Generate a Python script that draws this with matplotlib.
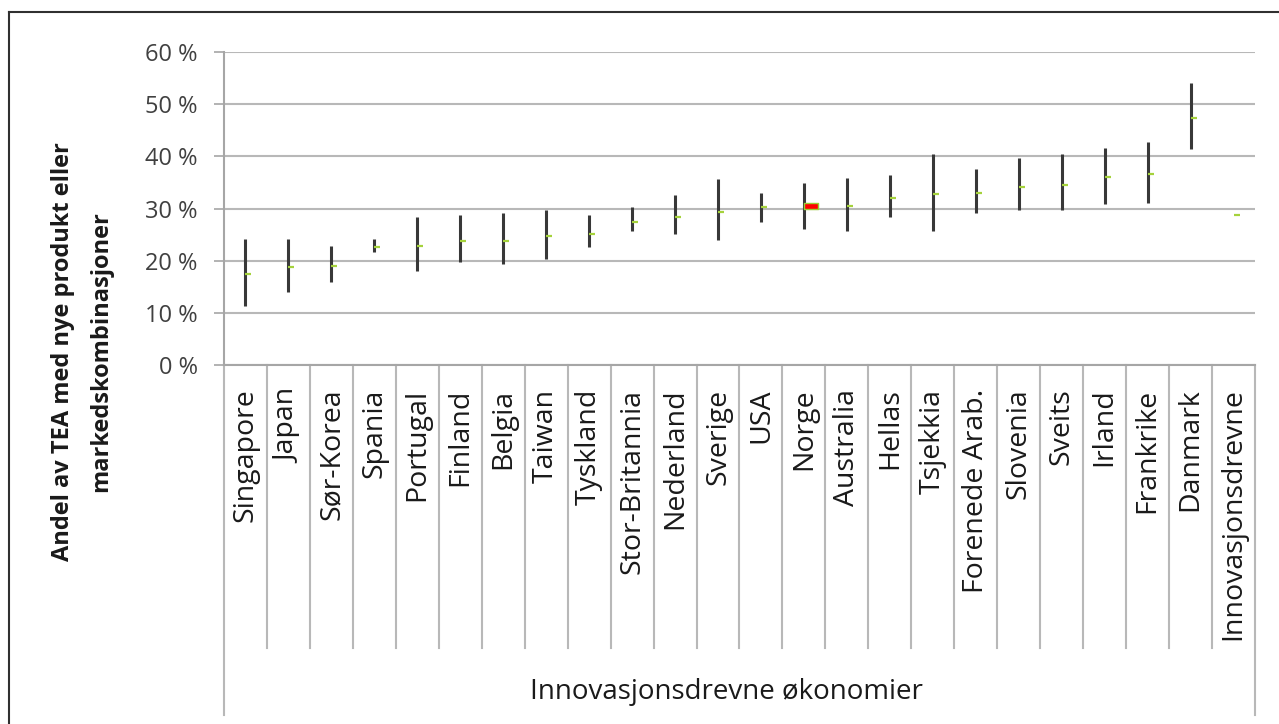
import numpy as np
import matplotlib
matplotlib.use("Agg")
import matplotlib.pyplot as plt
from matplotlib.path import Path
from matplotlib.lines import Line2D
import matplotlib.transforms as mtransforms

plt.rcParams['font.family'] = ['Open Sans', 'DejaVu Sans']

# Data (share of TEA, in %)
countries = ["Singapore", "Japan", "Sør-Korea", "Spania", "Portugal", "Finland",
             "Belgia", "Taiwan", "Tyskland", "Stor-Britannia", "Nederland",
             "Sverige", "USA", "Norge", "Australia", "Hellas", "Tsjekkia",
             "Forenede Arab.", "Slovenia", "Sveits", "Irland", "Frankrike",
             "Danmark", "Innovasjonsdrevne"]
high = [24.1, 24.1, 22.8, 24.2, 28.4, 28.7, 29.1, 29.7, 28.7, 30.2, 32.6,
        35.6, 32.9, 34.8, 35.9, 36.5, 40.4, 37.5, 39.6, 40.4, 41.6, 42.7,
        54.0, np.nan]
low = [11.3, 14.0, 15.9, 21.7, 18.1, 19.7, 19.4, 20.3, 22.7, 25.6, 25.2,
       24.0, 27.5, 26.0, 25.6, 28.3, 25.6, 29.2, 29.8, 29.8, 30.8, 31.1,
       41.4, np.nan]
mid = [17.4, 18.7, 19.0, 22.6, 22.9, 23.8, 23.8, 24.8, 25.2, 27.5, 28.4,
       29.4, 30.2, 30.4, 30.4, 32.0, 32.7, 33.0, 34.2, 34.6, 36.0, 36.6,
       47.3, 28.75]
highlight = "Norge"

high = np.array(high) / 100
low = np.array(low) / 100
mid = np.array(mid) / 100
x = np.arange(len(countries))

fig = plt.figure(figsize=(12.79, 7.24), dpi=100)
ax = fig.add_axes([224 / 1279, 1 - 365 / 724, (1255 - 224) / 1279, (365 - 52) / 724])

grid_c = '#b8b8b8'
axis_c = '#a6a6a6'

# high-low lines and close markers
ax.vlines(x, low, high, color='#383838', lw=2.2, zorder=3)
ax.plot(x, mid, ls='none', marker=1, color='#a5d23c', ms=4, mew=1.6, zorder=4)

# highlighted country
box = Path([(0, -0.2), (1, -0.2), (1, 0.2), (0, 0.2), (0, -0.2)],
           [Path.MOVETO, Path.LINETO, Path.LINETO, Path.LINETO, Path.CLOSEPOLY])
hi = countries.index(highlight)
ax.plot([x[hi]], [mid[hi]], ls='none', marker=box, ms=20, mfc='#ff0000',
        mec='#9acd32', mew=1, zorder=5)

ax.set_xlim(-0.5, len(countries) - 0.5)
ax.set_ylim(0, 0.6)
ax.set_yticks(np.arange(0, 0.61, 0.1))
ax.set_yticklabels([f"{round(v * 100)} %" for v in np.arange(0, 0.61, 0.1)],
                   fontsize=17, color='#404040')
ax.yaxis.grid(True, color=grid_c, lw=1.5)
ax.set_axisbelow(True)
ax.tick_params(axis='y', length=7, width=1.2, color=axis_c, pad=12)

ax.set_xticks(x)
ax.set_xticklabels(countries, rotation=90, fontsize=20.5, color='#1a1a1a', va='top')
ax.tick_params(axis='x', length=0, pad=17)

for s in ['top', 'right']:
    ax.spines[s].set_visible(False)
ax.spines['left'].set_color(axis_c)
ax.spines['bottom'].set_color(axis_c)
ax.spines['left'].set_linewidth(1.5)
ax.spines['bottom'].set_linewidth(1.5)

# category table lines below the axis
trans = mtransforms.blended_transform_factory(ax.transData, ax.transAxes)
bounds = np.arange(len(countries) + 1) - 0.5
for i, b in enumerate(bounds):
    bottom = -1.118 if i in (0, len(bounds) - 1) else -0.904
    ax.plot([b, b], [0, bottom], transform=trans, color=grid_c, lw=1.5,
            clip_on=False, zorder=1)

fig.text(726 / 1279, 1 - 692 / 724, "Innovasjonsdrevne økonomier",
         ha='center', va='center', fontsize=20, color='#1a1a1a')
fig.text(82 / 1279, 1 - 352 / 724,
         "Andel av TEA med nye produkt eller\nmarkedskombinasjoner",
         rotation=90, ha='center', va='center', ma='center',
         fontsize=17, fontweight='bold', color='#1a1a1a', linespacing=1.8)

# outer frame (only top and left edges are in view)
fig.add_artist(Line2D([9 / 1279, 1], [1 - 12 / 724, 1 - 12 / 724],
                      transform=fig.transFigure, color='#303030', lw=1.5))
fig.add_artist(Line2D([9 / 1279, 9 / 1279], [0, 1 - 12 / 724],
                      transform=fig.transFigure, color='#303030', lw=1.5))

fig.savefig("out.png", dpi=100)
